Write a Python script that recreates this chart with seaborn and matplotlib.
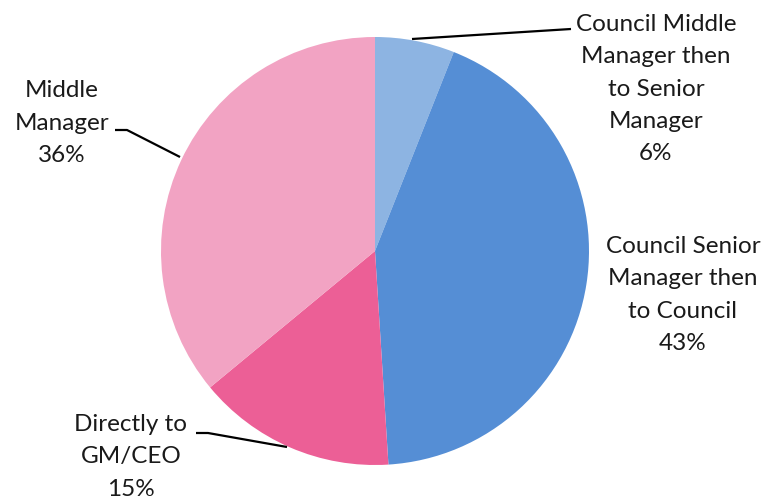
import matplotlib
matplotlib.use("Agg")
import matplotlib.pyplot as plt
import seaborn as sns

# Career pathway shares
categories = [
    "Council Middle\nManager then\nto Senior\nManager",
    "Council Senior\nManager then\nto Council",
    "Directly to\nGM/CEO",
    "Middle\nManager",
]
shares = [6, 43, 15, 36]
colors = ["#8DB4E2", "#558ED5", "#EC5F96", "#F2A3C3"]

sns.set_theme(style="white")
plt.rcParams["font.family"] = ["Lato", "DejaVu Sans"]

W, H = 766, 503
fig = plt.figure(figsize=(W / 100, H / 100), dpi=100)
ax = fig.add_axes([0, 0, 1, 1])

cx, cy, r = 375, H - 251, 214
ax.pie(shares, colors=colors, startangle=90, counterclock=False,
       center=(cx, cy), radius=r, frame=True,
       wedgeprops=dict(linewidth=0))
ax.set_xlim(0, W)
ax.set_ylim(0, H)
ax.set_aspect("equal")
ax.axis("off")

# label positions (centre of text block, pixel coords from top) and leader lines
label_pos = [(656, 89), (683, 295), (131, 457), (62, 123)]
leaders = [
    [(412, 39), (571, 29)],
    None,
    [(196, 433), (208, 433), (287, 447)],
    [(115, 130), (127, 130), (180, 157)],
]

for name, val, (tx, ty), ld in zip(categories, shares, label_pos, leaders):
    ax.text(tx, H - ty, f"{name}\n{val}%", ha="center", va="center",
            fontsize=17.5, color="#1a1a1a", linespacing=1.65)
    if ld:
        xs = [p[0] for p in ld]
        ys = [H - p[1] for p in ld]
        ax.plot(xs, ys, color="black", lw=1.6, solid_capstyle="butt")

fig.savefig("out.png", dpi=100, facecolor="white")
